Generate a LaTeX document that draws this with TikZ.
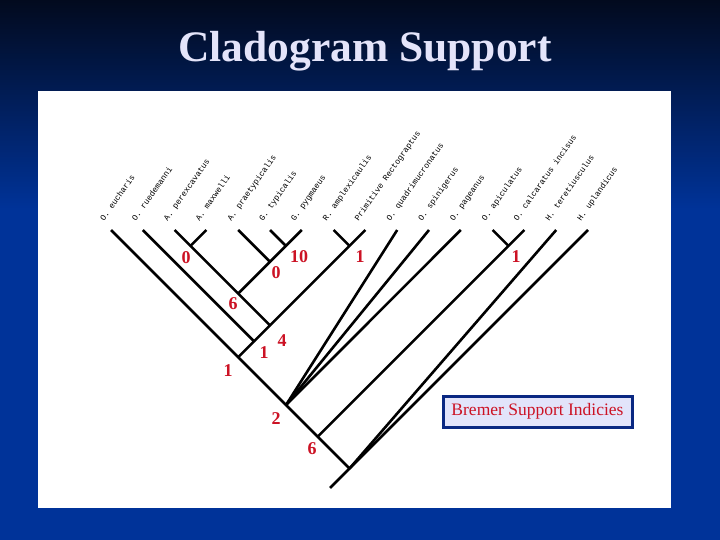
\documentclass[tikz,border=0pt]{standalone}
\usepackage{fontspec}
\setmainfont{Liberation Serif}
\newfontfamily\taxonfont{Liberation Mono}
\usetikzlibrary{positioning}
\definecolor{slidetop}{RGB}{2,10,30}
\definecolor{slideblue}{RGB}{0,51,153}
\definecolor{titlelav}{RGB}{228,228,250}
\definecolor{bremerred}{RGB}{204,18,36}
\definecolor{legendfill}{RGB}{226,228,250}
\definecolor{legendline}{RGB}{10,40,130}

\begin{document}
\begin{tikzpicture}[x=1pt, y=-1pt,
    branch/.style={line width=2.6pt, black, line join=round},
    taxon/.style={font=\taxonfont\fontsize{8.2}{9}\selectfont, rotate=55, anchor=base west, inner sep=0pt},
    bremer/.style={font=\bfseries\fontsize{18}{18}\selectfont, text=bremerred, inner sep=0pt}
]

% Slide background
\fill[slideblue] (0,0) rectangle (720,540);
\shade[top color=slidetop, bottom color=slideblue] (0,0) rectangle (720,210);
\useasboundingbox (0,0) rectangle (720,540);
\fill[white] (38,91) rectangle (671,508);

\node[font=\bfseries\fontsize{43.5}{44}\selectfont, text=titlelav, anchor=base] (title) at (365,62) {Cladogram Support};

% Tips
\coordinate (ecc) at (111,230);
\coordinate (rue) at (142.8,230);
\coordinate (per) at (174.6,230);
\coordinate (max) at (206.4,230);
\coordinate (pra) at (238.2,230);
\coordinate (typ) at (270,230);
\coordinate (pyg) at (301.8,230);
\coordinate (amp) at (333.6,230);
\coordinate (pri) at (365.4,230);
\coordinate (qua) at (397.2,230);
\coordinate (spi) at (429,230);
\coordinate (pag) at (460.8,230);
\coordinate (api) at (492.6,230);
\coordinate (cal) at (524.4,230);
\coordinate (ter) at (556.2,230);
\coordinate (upl) at (588,230);

% Taxon names
\node[taxon] (lEcc) at (104,222) {O. eucharis};
\node[taxon] (lRue) at (135.8,222) {O. ruedemanni};
\node[taxon] (lPer) at (167.6,222) {A. perexcavatus};
\node[taxon] (lMax) at (199.4,222) {A. maxwelli};
\node[taxon] (lPra) at (231.2,222) {A. praetypicalis};
\node[taxon] (lTyp) at (263,222) {G. typicalis};
\node[taxon] (lPyg) at (294.8,222) {G. pygmaeus};
\node[taxon] (lAmp) at (326.6,222) {R. amplexicaulis};
\node[taxon] (lPri) at (358.4,222) {Primitive Rectograptus};
\node[taxon] (lQua) at (390.2,222) {O. quadrimucronatus};
\node[taxon] (lSpi) at (422,222) {O. spinigerus};
\node[taxon] (lPag) at (453.8,222) {O. pageanus};
\node[taxon] (lApi) at (485.6,222) {O. apiculatus};
\node[taxon] (lCal) at (517.4,222) {O. calcaratus incisus};
\node[taxon] (lTer) at (549.2,222) {H. teretiusculus};
\node[taxon] (lUpl) at (581,222) {H. uplandicus};

% Internal nodes
\coordinate (vPer) at (190.5,245.9);
\coordinate (vTyp) at (285.9,245.9);
\coordinate (vAmp) at (349.5,245.9);
\coordinate (vApi) at (508.5,245.9);
\coordinate (nPra) at (270,261.8);
\coordinate (nA) at (238.2,293.6);
\coordinate (nB) at (270,325.4);
\coordinate (nRue) at (254.1,341.3);
\coordinate (nEcc) at (238.2,357.2);
\coordinate (nFan) at (286,405);
\coordinate (nApi) at (317.7,436.7);
\coordinate (root) at (349.5,468.5);
\coordinate (base) at (330,488);

% Branches
\draw[branch] (ecc) -- (nEcc) -- (nFan) -- (nApi) -- (root);
\draw[branch] (upl) -- (root) -- (base);
\draw[branch] (ter) -- (root);
\draw[branch] (rue) -- (nRue) -- (nEcc);
\draw[branch] (per) -- (vPer);
\draw[branch] (max) -- (vPer) -- (nA) -- (nB) -- (nRue);
\draw[branch] (pra) -- (nPra) -- (nA);
\draw[branch] (typ) -- (vTyp);
\draw[branch] (pyg) -- (vTyp) -- (nPra);
\draw[branch] (amp) -- (vAmp);
\draw[branch] (pri) -- (vAmp) -- (nB);
\draw[branch] (qua) -- (nFan);
\draw[branch] (spi) -- (nFan);
\draw[branch] (pag) -- (nFan);
\draw[branch] (api) -- (vApi);
\draw[branch] (cal) -- (vApi) -- (nApi);

% Bremer support values
\node[bremer] (bPer) at (186,258) {0};
\node[bremer] (bTyp) at (299,257) {10};
\node[bremer] (bPra) at (276,273) {0};
\node[bremer] (bAmp) at (360,257) {1};
\node[bremer] (bApi) at (516,257) {1};
\node[bremer] (bA) at (233,304) {6};
\node[bremer] (bB) at (282,341) {4};
\node[bremer] (bRue) at (264,353) {1};
\node[bremer] (bEcc) at (228,371) {1};
\node[bremer] (bFan) at (276,419) {2};
\node[bremer] (bNApi) at (312,449) {6};

% Legend
\node[draw=legendline, line width=3pt, fill=legendfill, minimum width=189pt, minimum height=31pt, inner sep=0pt, text=bremerred, font=\fontsize{17.5}{18}\selectfont] (legend) at (537.5,411.5) {Bremer Support Indicies};

\end{tikzpicture}
\end{document}
